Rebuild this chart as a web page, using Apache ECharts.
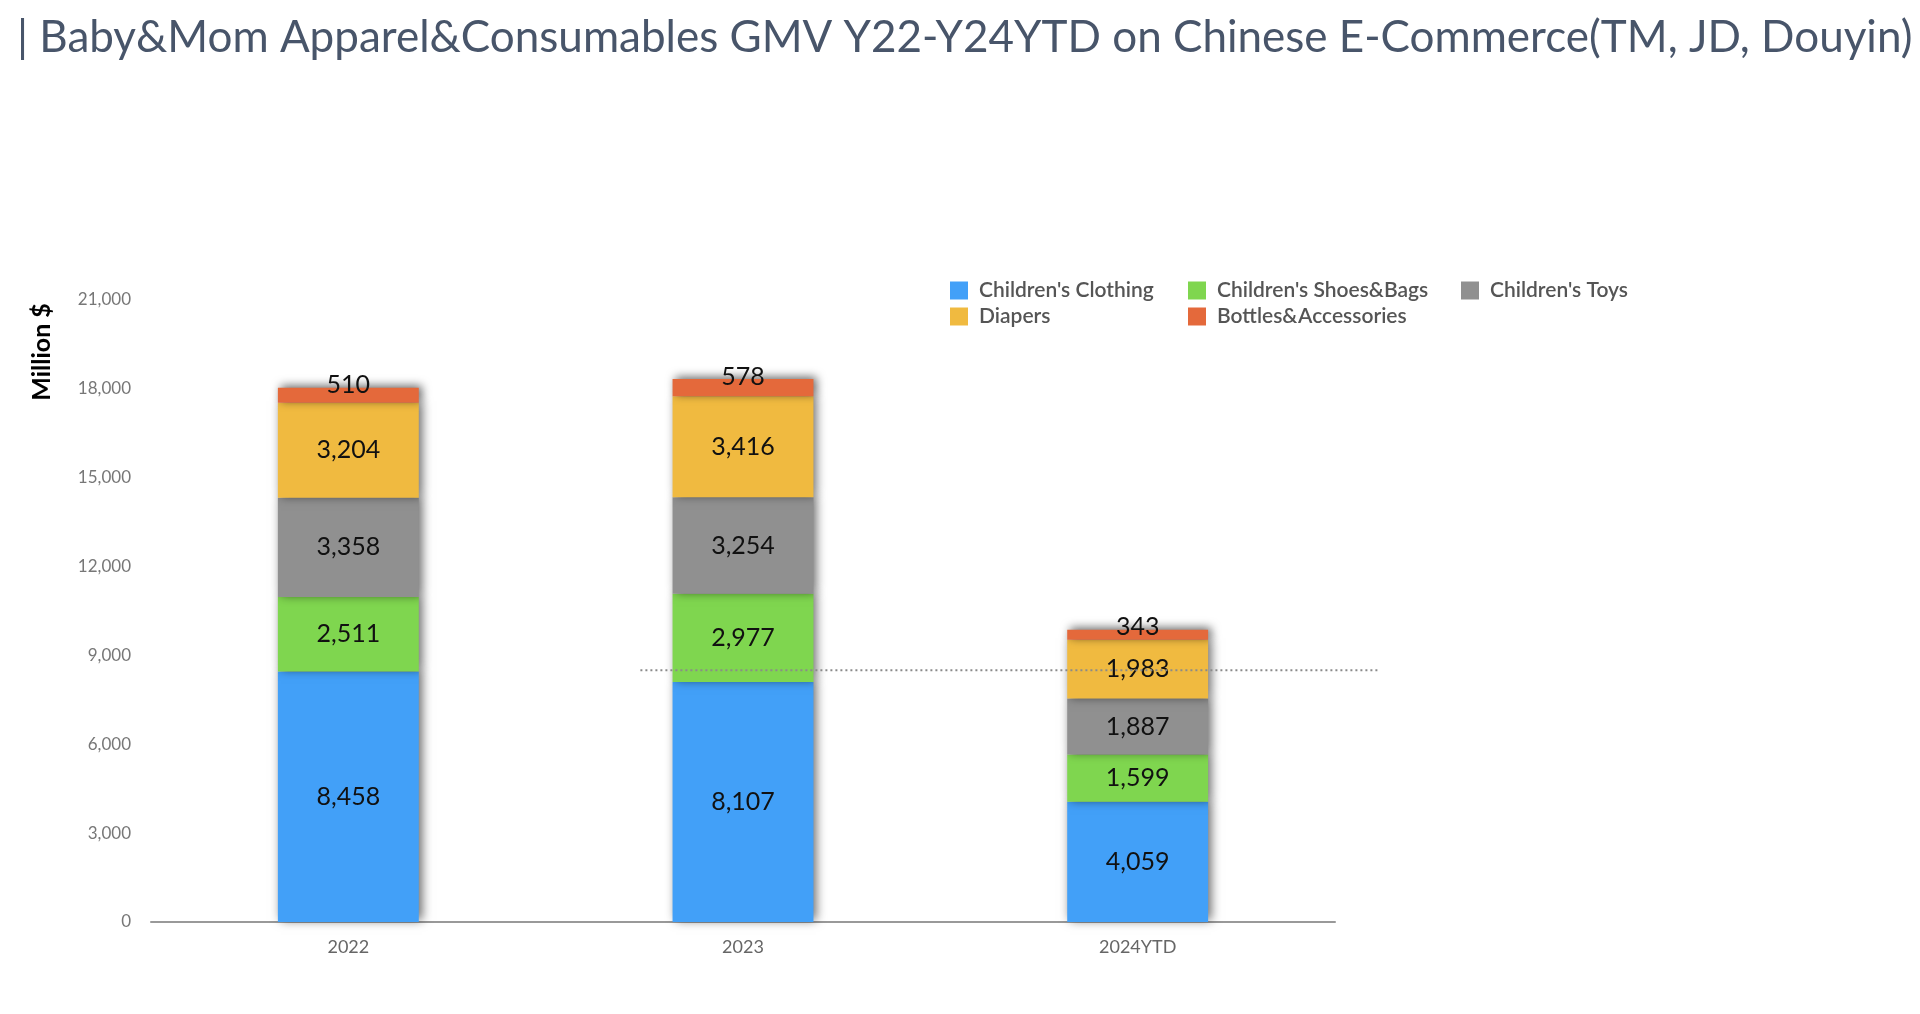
<!DOCTYPE html>
<html><head><meta charset="utf-8">
<script src="https://cdn.jsdelivr.net/npm/echarts@6/dist/echarts.min.js"></script>
<style>html,body{margin:0;padding:0;background:#fff}#c{width:1920px;height:1014px}</style>
</head><body><div id="c"></div>
<script>
const categories = ['2022', '2023', '2024YTD'];
const clothing = [8458, 8107, 4059];
const shoesBags = [2511, 2977, 1599];
const toys = [3358, 3254, 1887];
const diapers = [3204, 3416, 1983];
const bottles = [510, 578, 343];
const seriesNames = ["Children's Clothing", "Children's Shoes&Bags", "Children's Toys", "Diapers", "Bottles&Accessories"];
const seriesColors = ['#42A0F8', '#7FD64F', '#909090', '#F0BA40', '#E4693B'];
const yTicks = [0, 3000, 6000, 9000, 12000, 15000, 18000, 21000];
const refLineValue = 8500;
const refLineX = [0.74, 2.61];

const chart = echarts.init(document.getElementById('c'));
const fmt = v => v.toLocaleString('en-US');
const values = [clothing, shoesBags, toys, diapers, bottles];

const series = values.map((arr, i) => ({
  name: seriesNames[i],
  type: 'bar',
  stack: 'total',
  barWidth: '35.7%',
  data: arr,
  itemStyle: {
    color: seriesColors[i],
    shadowColor: 'rgba(0,0,0,0.6)',
    shadowBlur: 10,
    shadowOffsetX: 3,
    shadowOffsetY: -2
  },
  label: {
    show: true,
    position: i === 4 ? 'top' : 'inside',
    distance: i === 4 ? -10 : 5,
    color: '#111',
    fontSize: 25,
    fontFamily: 'Lato',
    formatter: p => fmt(p.value)
  }
}));

series.push({
  type: 'line',
  xAxisIndex: 1,
  yAxisIndex: 1,
  data: [[refLineX[0], refLineValue], [refLineX[1], refLineValue]],
  symbol: 'none',
  silent: true,
  z: 10,
  lineStyle: { color: '#8a8a8a', width: 2, type: [2, 3] }
});

const legendCols = [[0, 3], [1, 4], [2]];
const legendLeft = [945, 1183, 1456];
const legends = legendCols.map((col, k) => ({
  orient: 'vertical',
  left: legendLeft[k],
  top: 275,
  itemGap: 5,
  itemWidth: 18,
  itemHeight: 18,
  icon: 'rect',
  data: col.map(i => seriesNames[i]),
  textStyle: { fontSize: 21, color: '#555', fontWeight: 600, fontFamily: 'Lato', padding: [0, 0, 0, 6] }
}));

const catUnits = (1920 - 151) / ((1920 - 151 - 585) / categories.length);

chart.setOption({
  animation: false,
  color: seriesColors,
  title: {
    text: '| Baby&Mom Apparel&Consumables GMV Y22-Y24YTD on Chinese E-Commerce(TM, JD, Douyin)',
    left: 12,
    top: 11,
    textStyle: { fontSize: 44, fontWeight: 'normal', color: '#48556A', fontFamily: 'Lato' }
  },
  legend: legends,
  grid: [
    { left: 151, right: 585, top: 300, bottom: 92 },
    { left: 151, right: 0, top: 300, bottom: 92 }
  ],
  xAxis: [{
    type: 'category',
    gridIndex: 0,
    data: categories,
    axisLine: { lineStyle: { color: '#999', width: 2 } },
    axisTick: { show: false },
    axisLabel: { color: '#666', fontSize: 18, margin: 16, fontFamily: 'Lato' }
  }, {
    type: 'value',
    gridIndex: 1,
    min: -0.5, max: catUnits - 0.5,
    show: false
  }],
  yAxis: [{
    type: 'value',
    gridIndex: 0,
    min: yTicks[0],
    max: yTicks[yTicks.length - 1],
    interval: 3000,
    axisLine: { show: false },
    axisTick: { show: false },
    splitLine: { show: false },
    axisLabel: { color: '#777', fontSize: 17, margin: 20, fontFamily: 'Lato', formatter: v => fmt(v) }
  }, {
    type: 'value',
    gridIndex: 1,
    min: yTicks[0],
    max: yTicks[yTicks.length - 1],
    show: false
  }],
  graphic: [{
    type: 'text',
    x: 42,
    y: 352,
    rotation: Math.PI / 2,
    style: { text: 'Million $', fontSize: 25, fontWeight: 'bold', fill: '#000', fontFamily: 'Lato', align: 'center', verticalAlign: 'middle' }
  }],
  series: series
});
</script></body></html>
